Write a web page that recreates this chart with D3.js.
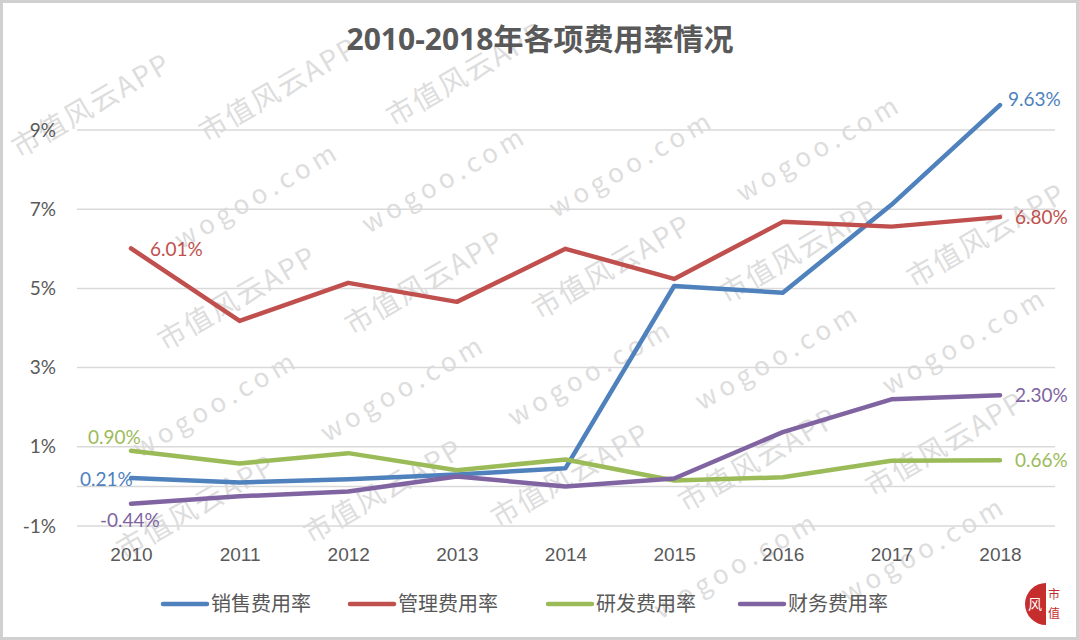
<!DOCTYPE html>
<html>
<head>
<meta charset="utf-8">
<script src="https://cdn.jsdelivr.net/npm/d3@7"></script>
<style>
  body { margin: 0; background: #fff; }
  svg { display: block; font-family: Lato, "Noto Sans CJK SC", sans-serif; }
</style>
</head>
<body>
<svg width="1079" height="640"></svg>
<script>
const years = ["2010", "2011", "2012", "2013", "2014", "2015", "2016", "2017", "2018"];
const sales = [0.21, 0.10, 0.18, 0.30, 0.46, 5.06, 4.89, 7.11, 9.63];
const admin = [6.01, 4.18, 5.14, 4.66, 6.00, 5.24, 6.68, 6.56, 6.80];
const rnd = [0.90, 0.58, 0.84, 0.41, 0.68, 0.15, 0.23, 0.65, 0.66];
const finance = [-0.44, -0.25, -0.13, 0.25, 0.0, 0.20, 1.37, 2.20, 2.30];
const seriesNames = ["销售费用率", "管理费用率", "研发费用率", "财务费用率"];
const colors = ["#4F81BD", "#C0504D", "#9BBB59", "#8064A2"];
const yTicks = [-1, 1, 3, 5, 7, 9];

const W = 1079, H = 640;
const svg = d3.select("svg");

// frame
svg.append("rect")
  .attr("x", 1.5).attr("y", 1.5)
  .attr("width", W - 3).attr("height", H - 3)
  .attr("fill", "#fff")
  .attr("stroke", "#d0d0d0")
  .attr("stroke-width", 3);

// watermark (drawn under the chart, only whole words that fit)
const ang = -30 * Math.PI / 180;
const cx = W / 2, cy = H / 2;
function rot(px, py) {
  const dx = px - cx, dy = py - cy;
  return [cx + dx * Math.cos(ang) - dy * Math.sin(ang), cy + dx * Math.sin(ang) + dy * Math.cos(ang)];
}
const wm = svg.append("g").attr("transform", `rotate(-30 ${cx} ${cy})`);
const words = [{ t: "市值风云APP", w: 175, off: 0 }, { t: "wogoo.com", w: 190, off: 235 }];
for (let r = -10; r <= 10; r++) {
  for (let k = -8; k <= 8; k++) {
    const period = 480;
    const bx = cx + k * period + r * 170;
    const by = cy + r * 80;
    words.forEach(wd => {
      const px = bx + wd.off;
      const pts = [rot(px, by + 4), rot(px + wd.w, by + 4), rot(px, by - 26), rot(px + wd.w, by - 26)];
      const inside = pts.every(p => p[0] > 6 && p[0] < W - 6 && p[1] > 6 && p[1] < H - 6);
      if (!inside) return;
      wm.append("text")
        .attr("x", px).attr("y", by)
        .attr("fill", "#dddddd")
        .style("font-size", wd.t === "wogoo.com" ? "26px" : "28px")
        .style("letter-spacing", wd.t === "wogoo.com" ? "5px" : "2px")
        .style("font-family", "'Noto Sans CJK SC', 'DejaVu Sans', sans-serif")
        .text(wd.t);
    });
  }
}

const x = d3.scalePoint().domain(years).range([131, 1000]);
const y = d3.scaleLinear().domain([-1, 9]).range([526, 130]);

// grid
svg.append("g")
  .selectAll("line")
  .data(yTicks.concat([0]))
  .join("line")
  .attr("x1", 77).attr("x2", 1055)
  .attr("y1", d => y(d)).attr("y2", d => y(d))
  .attr("stroke", "#d9d9d9")
  .attr("stroke-width", 1.5);

// y axis labels
const yAxis = svg.append("g")
  .attr("transform", "translate(70,0)")
  .call(d3.axisLeft(y).tickValues(yTicks).tickFormat(d => d + "%").tickSize(0).tickPadding(14));
yAxis.select(".domain").remove();
yAxis.selectAll("text")
  .attr("fill", "#595959")
  .style("font-size", "19px")
  .style("font-family", "Lato, sans-serif");

// x axis labels
const xAxis = svg.append("g")
  .attr("transform", "translate(0,545)")
  .call(d3.axisBottom(x).tickSize(0).tickPadding(2));
xAxis.select(".domain").remove();
xAxis.selectAll("text")
  .attr("fill", "#595959")
  .style("font-size", "19px")
  .style("font-family", "'Liberation Sans Narrow', 'Liberation Sans', sans-serif");

// title
svg.append("text")
  .attr("x", 540).attr("y", 50)
  .attr("text-anchor", "middle")
  .attr("fill", "#595959")
  .style("font-size", "30px")
  .style("font-weight", "bold")
  .style("font-family", "'Open Sans', 'Noto Sans CJK SC', sans-serif")
  .text("2010-2018年各项费用率情况");

const allSeries = [sales, admin, rnd, finance];
const line = d3.line().x((d, i) => x(years[i])).y(d => y(d));

svg.append("g")
  .selectAll("path")
  .data(allSeries)
  .join("path")
  .attr("d", line)
  .attr("fill", "none")
  .attr("stroke", (d, i) => colors[i])
  .attr("stroke-width", 4.5)
  .attr("stroke-linejoin", "round")
  .attr("stroke-linecap", "round");

// data labels: first and last point
const fmt = v => v.toFixed(2) + "%";
const first = x(years[0]);
const last = x(years[years.length - 1]);
const labels = [
  { v: sales[0], c: colors[0], dx: -51, dy: 1 },
  { v: admin[0], c: colors[1], dx: 19, dy: 1 },
  { v: rnd[0], c: colors[2], dx: -43, dy: -13 },
  { v: finance[0], c: colors[3], dx: -31, dy: 17 }
];
const lastLabels = [
  { v: sales[8], c: colors[0], dx: 8, dy: -6 },
  { v: admin[8], c: colors[1], dx: 15, dy: 0 },
  { v: rnd[8], c: colors[2], dx: 15, dy: 0 },
  { v: finance[8], c: colors[3], dx: 15, dy: 0 }
];
svg.append("g")
  .selectAll("text")
  .data(labels.concat(lastLabels.map(d => Object.assign({ end: true }, d))))
  .join("text")
  .attr("x", d => (d.end ? last : first) + d.dx)
  .attr("y", d => y(d.v) + d.dy)
  .attr("dy", "0.35em")
  .attr("fill", d => d.c)
  .style("font-size", "19px")
  .text(d => fmt(d.v));

// legend
const legendX = [163, 350, 548, 740];
const lg = svg.append("g")
  .selectAll("g")
  .data(seriesNames)
  .join("g")
  .attr("transform", (d, i) => `translate(${legendX[i]},604)`);
lg.append("line")
  .attr("x1", 0).attr("x2", 44)
  .attr("stroke", (d, i) => colors[i])
  .attr("stroke-width", 4.5)
  .attr("stroke-linecap", "round");
lg.append("text")
  .attr("x", 48)
  .attr("dy", "0.35em")
  .attr("fill", "#595959")
  .style("font-size", "20px")
  .style("font-family", "'Noto Sans CJK SC', sans-serif")
  .text(d => d);

// logo
const logo = svg.append("g").attr("transform", "translate(1046,604)");
logo.append("path")
  .attr("d", d3.arc()({ innerRadius: 0, outerRadius: 21, startAngle: Math.PI, endAngle: 2 * Math.PI }))
  .attr("fill", "#c62d2d");
logo.append("text").attr("x", -11).attr("y", 0).attr("dy", "0.35em").attr("text-anchor", "middle")
  .attr("fill", "#fff")
  .style("font-size", "14px").style("font-family", "'Noto Sans CJK SC'").text("风");
logo.append("text").attr("x", 8).attr("y", -9).attr("dy", "0.35em").attr("text-anchor", "middle")
  .attr("fill", "#c62d2d")
  .style("font-size", "12px").style("font-family", "'Noto Sans CJK SC'").text("市");
logo.append("text").attr("x", 8).attr("y", 10).attr("dy", "0.35em").attr("text-anchor", "middle")
  .attr("fill", "#c62d2d")
  .style("font-size", "12px").style("font-family", "'Noto Sans CJK SC'").text("值");
</script>
</body>
</html>
